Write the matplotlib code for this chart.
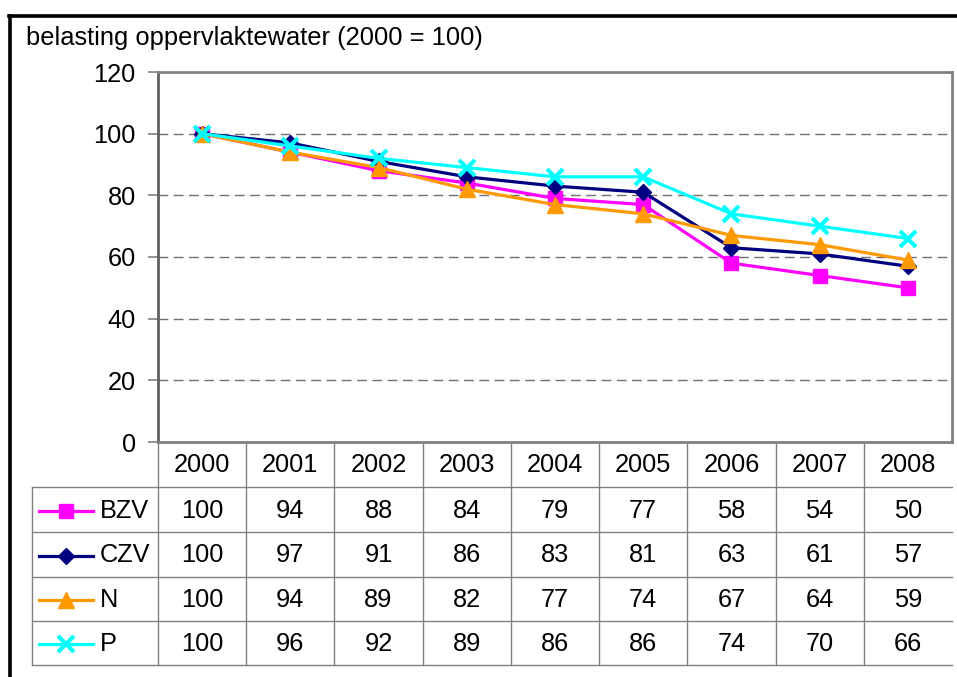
import matplotlib
matplotlib.use("Agg")
import matplotlib.pyplot as plt
from matplotlib.lines import Line2D

years = ["2000", "2001", "2002", "2003", "2004", "2005", "2006", "2007", "2008"]
series_names = ["BZV", "CZV", "N", "P"]
bzv = [100, 94, 88, 84, 79, 77, 58, 54, 50]
czv = [100, 97, 91, 86, 83, 81, 63, 61, 57]
n_vals = [100, 94, 89, 82, 77, 74, 67, 64, 59]
p_vals = [100, 96, 92, 89, 86, 86, 74, 70, 66]
yticks = [0, 20, 40, 60, 80, 100, 120]
title = "belasting oppervlaktewater (2000 = 100)"

values = [bzv, czv, n_vals, p_vals]
colors = ["#FF00FF", "#000080", "#FF9900", "#00FFFF"]
markers = ["s", "D", "^", "x"]
msizes = [10, 8.5, 12, 11]

plt.rcParams['font.family'] = ['Liberation Sans', 'DejaVu Sans']

W, H = 957, 677
fig = plt.figure(figsize=(W / 100, H / 100), dpi=100)

def fx(px):
    return px / W

def fy(py):
    return 1 - py / H

FS = 18.3

# plot area in pixels
L, R, T, B = 158, 952, 72, 442
ax = fig.add_axes([fx(L), fy(B), fx(R) - fx(L), fy(T) - fy(B)])
xs = list(range(len(years)))
for vals, c, m, ms in zip(values, colors, markers, msizes):
    ax.plot(xs, vals, color=c, lw=2.3, marker=m, ms=ms, mew=3 if m == "x" else 1,
            mec=c, mfc=c, zorder=3, clip_on=False)
ax.set_xlim(-0.5, len(years) - 0.5)
ax.set_ylim(0, 120)
ax.set_yticks(yticks)
ax.set_yticklabels([str(v) for v in yticks], fontsize=FS)
ax.set_xticks([])
ax.tick_params(axis='y', direction='out', length=7, width=1.2, color='#808080', pad=9)
for v in yticks[1:-1]:
    ax.axhline(v, color='#707070', lw=1, ls=(0, (7, 4)), zorder=1)
for s in ax.spines.values():
    s.set_color('#808080')
    s.set_linewidth(2)
ax.spines['left'].set_color('#606060')

fig.text(fx(26), fy(38), title, fontsize=18.4, ha='left', va='center')

# data table
tab = fig.add_axes([0, 0, 1, 1])
tab.set_xlim(0, W)
tab.set_ylim(H, 0)
tab.axis('off')
colw = (R - L) / len(years)
row_tops = [442, 487, 532, 577, 621, 665]
lc = '#808080'
for i in range(len(years)):
    x = L + i * colw
    tab.plot([x, x], [row_tops[0], row_tops[-1]], color=lc, lw=1)
for y in row_tops[1:]:
    tab.plot([32, R], [y, y], color=lc, lw=1)
tab.plot([32, 32], [row_tops[1], row_tops[-1]], color=lc, lw=1)
for i, yr in enumerate(years):
    tab.text(L + (i + 0.5) * colw, (row_tops[0] + row_tops[1]) / 2 + 1, yr,
             fontsize=FS, ha='center', va='center')
for r, (name, vals, c, m, ms) in enumerate(zip(series_names, values, colors, markers, msizes)):
    yc = (row_tops[r + 1] + row_tops[r + 2]) / 2 + 1
    tab.plot([39, 93], [yc, yc], color=c, lw=2.3)
    tab.plot([66], [yc], color=c, marker=m, ms=ms, mew=3 if m == "x" else 1, mec=c, mfc=c)
    tab.text(100, yc, name, fontsize=FS, ha='left', va='center')
    for i, v in enumerate(vals):
        tab.text(L + (i + 0.5) * colw, yc, str(v), fontsize=FS, ha='center', va='center')

# outer frame
fig.add_artist(Line2D([fx(10), fx(10)], [0, fy(15.5)], color='black', lw=2.6,
                      transform=fig.transFigure))
fig.add_artist(Line2D([fx(8.7), 1], [fy(15.5), fy(15.5)], color='black', lw=2.6,
                      transform=fig.transFigure))

fig.savefig("out.png", dpi=100)
